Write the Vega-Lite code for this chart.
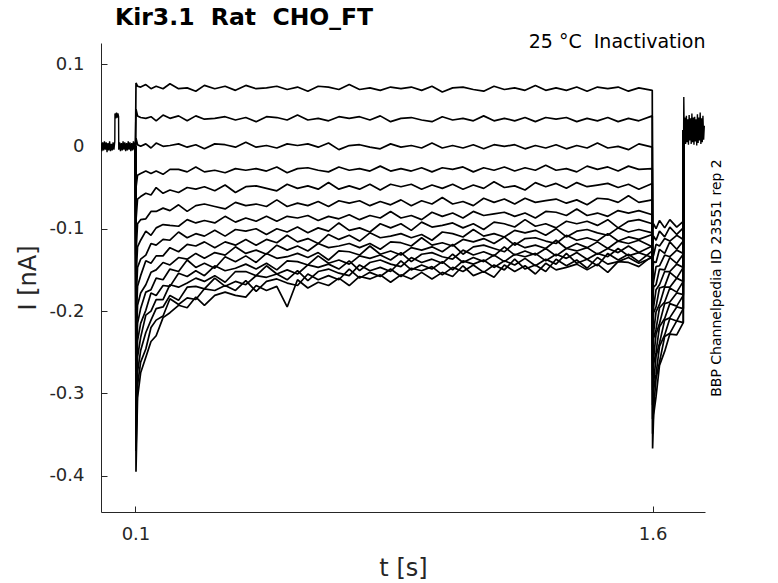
{
"$schema":"https://vega.github.io/schema/vega-lite/v6.json",
"width":604,"height":469,
"autosize":{"type":"none"},
"padding":{"left":101,"top":43,"right":73,"bottom":71},
"background":"white",
"config":{"view":{"stroke":null},"font":"DejaVu Sans",
"axis":{"labelFont":"DejaVu Sans","titleFont":"DejaVu Sans","labelColor":"#262626","titleColor":"#262626","domainColor":"#262626","tickColor":"#262626","grid":false,"titleFontWeight":"normal"}},
"title":{"text":"Kir3.1\u00a0\u00a0Rat\u00a0\u00a0CHO_FT","anchor":"start","frame":"group","fontSize":23.5,"fontWeight":"bold","font":"DejaVu Sans","color":"#000000","baseline":"alphabetic","offset":-16,"dx":14},
"data":{"values":[
{"k":0,"t":0,"v":0.004},{"k":0,"t":0.0025,"v":-0.006},{"k":0,"t":0.005,"v":0.005},{"k":0,"t":0.0075,"v":-0.005},{"k":0,"t":0.01,"v":0.006},{"k":0,"t":0.0125,"v":-0.004},{"k":0,"t":0.015,"v":0.005},{"k":0,"t":0.0175,"v":-0.007},{"k":0,"t":0.02,"v":0.004},{"k":0,"t":0.0225,"v":-0.005},{"k":0,"t":0.025,"v":0.006},{"k":0,"t":0.0275,"v":-0.006},{"k":0,"t":0.03,"v":0.003},{"k":0,"t":0.0325,"v":-0.005},{"k":0,"t":0.035,"v":0.005},{"k":0,"t":0.0375,"v":-0.004},{"k":0,"t":0.04,"v":0.006},{"k":0,"t":0.0405,"v":0.04},{"k":0,"t":0.043,"v":0.034},{"k":0,"t":0.045,"v":0.041},{"k":0,"t":0.047,"v":0.035},{"k":0,"t":0.049,"v":0.04},{"k":0,"t":0.051,"v":0.036},{"k":0,"t":0.0515,"v":-0.004},{"k":0,"t":0.054,"v":0.005},{"k":0,"t":0.0565,"v":-0.006},{"k":0,"t":0.059,"v":0.004},{"k":0,"t":0.0615,"v":-0.005},{"k":0,"t":0.064,"v":0.006},{"k":0,"t":0.0665,"v":-0.004},{"k":0,"t":0.069,"v":0.005},{"k":0,"t":0.0715,"v":-0.006},{"k":0,"t":0.074,"v":0.004},{"k":0,"t":0.0765,"v":-0.005},{"k":0,"t":0.079,"v":0.006},{"k":0,"t":0.0815,"v":-0.004},{"k":0,"t":0.084,"v":0.005},{"k":0,"t":0.0865,"v":-0.006},{"k":0,"t":0.089,"v":0.004},{"k":0,"t":0.0915,"v":-0.005},{"k":0,"t":0.094,"v":0.006},{"k":0,"t":0.0965,"v":-0.004},{"k":0,"t":0.099,"v":0.005},{"k":0,"t":0.1,"v":0},
{"k":17,"t":1.69,"v":0.02},{"k":17,"t":1.6905,"v":0.06},{"k":17,"t":1.692,"v":0.007},{"k":17,"t":1.694,"v":0.035},{"k":17,"t":1.696,"v":0.003},{"k":17,"t":1.698,"v":0.037},{"k":17,"t":1.7,"v":0.005},{"k":17,"t":1.702,"v":0.033},{"k":17,"t":1.704,"v":0.002},{"k":17,"t":1.706,"v":0.038},{"k":17,"t":1.708,"v":0.007},{"k":17,"t":1.71,"v":0.034},{"k":17,"t":1.712,"v":0.003},{"k":17,"t":1.714,"v":0.04},{"k":17,"t":1.716,"v":0.005},{"k":17,"t":1.718,"v":0.035},{"k":17,"t":1.72,"v":0.002},{"k":17,"t":1.722,"v":0.036},{"k":17,"t":1.724,"v":0.006},{"k":17,"t":1.726,"v":0.033},{"k":17,"t":1.728,"v":0.001},{"k":17,"t":1.73,"v":0.039},{"k":17,"t":1.732,"v":0.004},{"k":17,"t":1.734,"v":0.035},{"k":17,"t":1.736,"v":0.007},{"k":17,"t":1.738,"v":0.041},{"k":17,"t":1.74,"v":0.003},{"k":17,"t":1.742,"v":0.034},{"k":17,"t":1.744,"v":0.005},{"k":17,"t":1.746,"v":0.037},{"k":17,"t":1.748,"v":0.008},{"k":17,"t":1.75,"v":0.025},
{"k":1,"t":0.1,"v":0},{"k":1,"t":0.1015,"v":0.077},{"k":1,"t":0.106,"v":0.073},{"k":1,"t":0.115,"v":0.072},{"k":1,"t":0.13,"v":0.075},{"k":1,"t":0.145,"v":0.07},{"k":1,"t":0.16,"v":0.073},{"k":1,"t":0.18,"v":0.07},{"k":1,"t":0.2,"v":0.076},{"k":1,"t":0.225,"v":0.07},{"k":1,"t":0.25,"v":0.071},{"k":1,"t":0.275,"v":0.067},{"k":1,"t":0.3,"v":0.074},{"k":1,"t":0.33,"v":0.07},{"k":1,"t":0.36,"v":0.073},{"k":1,"t":0.39,"v":0.068},{"k":1,"t":0.42,"v":0.074},{"k":1,"t":0.45,"v":0.07},{"k":1,"t":0.48,"v":0.071},{"k":1,"t":0.51,"v":0.073},{"k":1,"t":0.54,"v":0.069},{"k":1,"t":0.57,"v":0.072},{"k":1,"t":0.6,"v":0.067},{"k":1,"t":0.63,"v":0.073},{"k":1,"t":0.66,"v":0.072},{"k":1,"t":0.69,"v":0.069},{"k":1,"t":0.72,"v":0.075},{"k":1,"t":0.75,"v":0.069},{"k":1,"t":0.78,"v":0.071},{"k":1,"t":0.81,"v":0.068},{"k":1,"t":0.84,"v":0.072},{"k":1,"t":0.87,"v":0.07},{"k":1,"t":0.9,"v":0.072},{"k":1,"t":0.93,"v":0.068},{"k":1,"t":0.96,"v":0.073},{"k":1,"t":0.99,"v":0.066},{"k":1,"t":1.02,"v":0.071},{"k":1,"t":1.05,"v":0.072},{"k":1,"t":1.08,"v":0.069},{"k":1,"t":1.11,"v":0.067},{"k":1,"t":1.14,"v":0.073},{"k":1,"t":1.17,"v":0.069},{"k":1,"t":1.2,"v":0.071},{"k":1,"t":1.23,"v":0.068},{"k":1,"t":1.26,"v":0.074},{"k":1,"t":1.29,"v":0.068},{"k":1,"t":1.32,"v":0.071},{"k":1,"t":1.35,"v":0.068},{"k":1,"t":1.38,"v":0.072},{"k":1,"t":1.41,"v":0.067},{"k":1,"t":1.44,"v":0.072},{"k":1,"t":1.47,"v":0.07},{"k":1,"t":1.5,"v":0.072},{"k":1,"t":1.53,"v":0.067},{"k":1,"t":1.56,"v":0.071},{"k":1,"t":1.599,"v":0.068},{"k":1,"t":1.6,"v":-0.1},{"k":1,"t":1.603,"v":-0.094},{"k":1,"t":1.61,"v":-0.1},{"k":1,"t":1.62,"v":-0.09},{"k":1,"t":1.635,"v":-0.099},{"k":1,"t":1.65,"v":-0.089},{"k":1,"t":1.67,"v":-0.098},{"k":1,"t":1.689,"v":-0.091},{"k":1,"t":1.69,"v":0.02},
{"k":2,"t":0.1,"v":0},{"k":2,"t":0.1015,"v":0.045},{"k":2,"t":0.106,"v":0.037},{"k":2,"t":0.115,"v":0.035},{"k":2,"t":0.13,"v":0.034},{"k":2,"t":0.145,"v":0.036},{"k":2,"t":0.16,"v":0.031},{"k":2,"t":0.18,"v":0.038},{"k":2,"t":0.2,"v":0.034},{"k":2,"t":0.225,"v":0.037},{"k":2,"t":0.25,"v":0.031},{"k":2,"t":0.275,"v":0.037},{"k":2,"t":0.3,"v":0.033},{"k":2,"t":0.33,"v":0.034},{"k":2,"t":0.36,"v":0.036},{"k":2,"t":0.39,"v":0.032},{"k":2,"t":0.42,"v":0.035},{"k":2,"t":0.45,"v":0.03},{"k":2,"t":0.48,"v":0.036},{"k":2,"t":0.51,"v":0.035},{"k":2,"t":0.54,"v":0.032},{"k":2,"t":0.57,"v":0.038},{"k":2,"t":0.6,"v":0.032},{"k":2,"t":0.63,"v":0.034},{"k":2,"t":0.66,"v":0.031},{"k":2,"t":0.69,"v":0.036},{"k":2,"t":0.72,"v":0.034},{"k":2,"t":0.75,"v":0.036},{"k":2,"t":0.78,"v":0.032},{"k":2,"t":0.81,"v":0.037},{"k":2,"t":0.84,"v":0.03},{"k":2,"t":0.87,"v":0.034},{"k":2,"t":0.9,"v":0.035},{"k":2,"t":0.93,"v":0.032},{"k":2,"t":0.96,"v":0.03},{"k":2,"t":0.99,"v":0.036},{"k":2,"t":1.02,"v":0.032},{"k":2,"t":1.05,"v":0.034},{"k":2,"t":1.08,"v":0.031},{"k":2,"t":1.11,"v":0.037},{"k":2,"t":1.14,"v":0.031},{"k":2,"t":1.17,"v":0.034},{"k":2,"t":1.2,"v":0.031},{"k":2,"t":1.23,"v":0.035},{"k":2,"t":1.26,"v":0.03},{"k":2,"t":1.29,"v":0.035},{"k":2,"t":1.32,"v":0.033},{"k":2,"t":1.35,"v":0.035},{"k":2,"t":1.38,"v":0.03},{"k":2,"t":1.41,"v":0.034},{"k":2,"t":1.44,"v":0.031},{"k":2,"t":1.47,"v":0.035},{"k":2,"t":1.5,"v":0.03},{"k":2,"t":1.53,"v":0.034},{"k":2,"t":1.56,"v":0.031},{"k":2,"t":1.599,"v":0.037},{"k":2,"t":1.6,"v":-0.118},{"k":2,"t":1.603,"v":-0.109},{"k":2,"t":1.61,"v":-0.114},{"k":2,"t":1.62,"v":-0.103},{"k":2,"t":1.635,"v":-0.11},{"k":2,"t":1.65,"v":-0.098},{"k":2,"t":1.67,"v":-0.107},{"k":2,"t":1.689,"v":-0.099},{"k":2,"t":1.69,"v":0.02},
{"k":3,"t":0.1,"v":0},{"k":3,"t":0.1015,"v":0.01},{"k":3,"t":0.106,"v":0.002},{"k":3,"t":0.115,"v":0},{"k":3,"t":0.13,"v":0.003},{"k":3,"t":0.145,"v":-0.002},{"k":3,"t":0.16,"v":0.004},{"k":3,"t":0.18,"v":0},{"k":3,"t":0.2,"v":0.001},{"k":3,"t":0.225,"v":0.003},{"k":3,"t":0.25,"v":-0.001},{"k":3,"t":0.275,"v":0.002},{"k":3,"t":0.3,"v":-0.003},{"k":3,"t":0.33,"v":0.003},{"k":3,"t":0.36,"v":0.002},{"k":3,"t":0.39,"v":-0.001},{"k":3,"t":0.42,"v":0.005},{"k":3,"t":0.45,"v":-0.001},{"k":3,"t":0.48,"v":0.001},{"k":3,"t":0.51,"v":-0.002},{"k":3,"t":0.54,"v":0.003},{"k":3,"t":0.57,"v":0.001},{"k":3,"t":0.6,"v":0.003},{"k":3,"t":0.63,"v":-0.001},{"k":3,"t":0.66,"v":0.004},{"k":3,"t":0.69,"v":-0.004},{"k":3,"t":0.72,"v":0.001},{"k":3,"t":0.75,"v":0.002},{"k":3,"t":0.78,"v":-0.001},{"k":3,"t":0.81,"v":-0.003},{"k":3,"t":0.84,"v":0.003},{"k":3,"t":0.87,"v":-0.001},{"k":3,"t":0.9,"v":0.001},{"k":3,"t":0.93,"v":-0.002},{"k":3,"t":0.96,"v":0.004},{"k":3,"t":0.99,"v":-0.002},{"k":3,"t":1.02,"v":0.001},{"k":3,"t":1.05,"v":-0.002},{"k":3,"t":1.08,"v":0.002},{"k":3,"t":1.11,"v":-0.003},{"k":3,"t":1.14,"v":0.002},{"k":3,"t":1.17,"v":0},{"k":3,"t":1.2,"v":0.002},{"k":3,"t":1.23,"v":-0.003},{"k":3,"t":1.26,"v":0.001},{"k":3,"t":1.29,"v":-0.002},{"k":3,"t":1.32,"v":0.002},{"k":3,"t":1.35,"v":-0.003},{"k":3,"t":1.38,"v":0.001},{"k":3,"t":1.41,"v":-0.002},{"k":3,"t":1.44,"v":0.004},{"k":3,"t":1.47,"v":-0.002},{"k":3,"t":1.5,"v":0},{"k":3,"t":1.53,"v":-0.004},{"k":3,"t":1.56,"v":0.003},{"k":3,"t":1.599,"v":-0.001},{"k":3,"t":1.6,"v":-0.136},{"k":3,"t":1.603,"v":-0.132},{"k":3,"t":1.61,"v":-0.119},{"k":3,"t":1.62,"v":-0.121},{"k":3,"t":1.635,"v":-0.112},{"k":3,"t":1.65,"v":-0.115},{"k":3,"t":1.67,"v":-0.108},{"k":3,"t":1.689,"v":-0.113},{"k":3,"t":1.69,"v":0.02},
{"k":4,"t":0.1,"v":0},{"k":4,"t":0.1015,"v":-0.05},{"k":4,"t":0.106,"v":-0.035},{"k":4,"t":0.115,"v":-0.033},{"k":4,"t":0.13,"v":-0.03},{"k":4,"t":0.145,"v":-0.033},{"k":4,"t":0.16,"v":-0.03},{"k":4,"t":0.18,"v":-0.034},{"k":4,"t":0.2,"v":-0.028},{"k":4,"t":0.225,"v":-0.028},{"k":4,"t":0.25,"v":-0.031},{"k":4,"t":0.275,"v":-0.025},{"k":4,"t":0.3,"v":-0.031},{"k":4,"t":0.33,"v":-0.029},{"k":4,"t":0.36,"v":-0.032},{"k":4,"t":0.39,"v":-0.027},{"k":4,"t":0.42,"v":-0.029},{"k":4,"t":0.45,"v":-0.027},{"k":4,"t":0.48,"v":-0.03},{"k":4,"t":0.51,"v":-0.025},{"k":4,"t":0.54,"v":-0.032},{"k":4,"t":0.57,"v":-0.027},{"k":4,"t":0.6,"v":-0.026},{"k":4,"t":0.63,"v":-0.029},{"k":4,"t":0.66,"v":-0.031},{"k":4,"t":0.69,"v":-0.025},{"k":4,"t":0.72,"v":-0.029},{"k":4,"t":0.75,"v":-0.027},{"k":4,"t":0.78,"v":-0.03},{"k":4,"t":0.81,"v":-0.024},{"k":4,"t":0.84,"v":-0.03},{"k":4,"t":0.87,"v":-0.027},{"k":4,"t":0.9,"v":-0.03},{"k":4,"t":0.93,"v":-0.026},{"k":4,"t":0.96,"v":-0.031},{"k":4,"t":0.99,"v":-0.026},{"k":4,"t":1.02,"v":-0.028},{"k":4,"t":1.05,"v":-0.025},{"k":4,"t":1.08,"v":-0.031},{"k":4,"t":1.11,"v":-0.026},{"k":4,"t":1.14,"v":-0.029},{"k":4,"t":1.17,"v":-0.025},{"k":4,"t":1.2,"v":-0.03},{"k":4,"t":1.23,"v":-0.026},{"k":4,"t":1.26,"v":-0.029},{"k":4,"t":1.29,"v":-0.023},{"k":4,"t":1.32,"v":-0.029},{"k":4,"t":1.35,"v":-0.027},{"k":4,"t":1.38,"v":-0.031},{"k":4,"t":1.41,"v":-0.024},{"k":4,"t":1.44,"v":-0.028},{"k":4,"t":1.47,"v":-0.025},{"k":4,"t":1.5,"v":-0.03},{"k":4,"t":1.53,"v":-0.024},{"k":4,"t":1.56,"v":-0.028},{"k":4,"t":1.599,"v":-0.027},{"k":4,"t":1.6,"v":-0.153},{"k":4,"t":1.603,"v":-0.14},{"k":4,"t":1.61,"v":-0.141},{"k":4,"t":1.62,"v":-0.125},{"k":4,"t":1.635,"v":-0.13},{"k":4,"t":1.65,"v":-0.116},{"k":4,"t":1.67,"v":-0.125},{"k":4,"t":1.689,"v":-0.115},{"k":4,"t":1.69,"v":0.02},
{"k":5,"t":0.1,"v":0},{"k":5,"t":0.1015,"v":-0.09},{"k":5,"t":0.106,"v":-0.064},{"k":5,"t":0.115,"v":-0.061},{"k":5,"t":0.13,"v":-0.057},{"k":5,"t":0.145,"v":-0.059},{"k":5,"t":0.16,"v":-0.05},{"k":5,"t":0.18,"v":-0.057},{"k":5,"t":0.2,"v":-0.053},{"k":5,"t":0.225,"v":-0.056},{"k":5,"t":0.25,"v":-0.05},{"k":5,"t":0.275,"v":-0.052},{"k":5,"t":0.3,"v":-0.049},{"k":5,"t":0.33,"v":-0.054},{"k":5,"t":0.36,"v":-0.047},{"k":5,"t":0.39,"v":-0.056},{"k":5,"t":0.42,"v":-0.049},{"k":5,"t":0.45,"v":-0.048},{"k":5,"t":0.48,"v":-0.051},{"k":5,"t":0.51,"v":-0.054},{"k":5,"t":0.54,"v":-0.046},{"k":5,"t":0.57,"v":-0.051},{"k":5,"t":0.6,"v":-0.048},{"k":5,"t":0.63,"v":-0.052},{"k":5,"t":0.66,"v":-0.044},{"k":5,"t":0.69,"v":-0.052},{"k":5,"t":0.72,"v":-0.048},{"k":5,"t":0.75,"v":-0.052},{"k":5,"t":0.78,"v":-0.046},{"k":5,"t":0.81,"v":-0.053},{"k":5,"t":0.84,"v":-0.046},{"k":5,"t":0.87,"v":-0.049},{"k":5,"t":0.9,"v":-0.046},{"k":5,"t":0.93,"v":-0.052},{"k":5,"t":0.96,"v":-0.047},{"k":5,"t":0.99,"v":-0.051},{"k":5,"t":1.02,"v":-0.046},{"k":5,"t":1.05,"v":-0.052},{"k":5,"t":1.08,"v":-0.047},{"k":5,"t":1.11,"v":-0.051},{"k":5,"t":1.14,"v":-0.043},{"k":5,"t":1.17,"v":-0.05},{"k":5,"t":1.2,"v":-0.048},{"k":5,"t":1.23,"v":-0.053},{"k":5,"t":1.26,"v":-0.044},{"k":5,"t":1.29,"v":-0.049},{"k":5,"t":1.32,"v":-0.045},{"k":5,"t":1.35,"v":-0.051},{"k":5,"t":1.38,"v":-0.044},{"k":5,"t":1.41,"v":-0.049},{"k":5,"t":1.44,"v":-0.047},{"k":5,"t":1.47,"v":-0.045},{"k":5,"t":1.5,"v":-0.05},{"k":5,"t":1.53,"v":-0.046},{"k":5,"t":1.56,"v":-0.052},{"k":5,"t":1.599,"v":-0.045},{"k":5,"t":1.6,"v":-0.171},{"k":5,"t":1.603,"v":-0.164},{"k":5,"t":1.61,"v":-0.146},{"k":5,"t":1.62,"v":-0.145},{"k":5,"t":1.635,"v":-0.132},{"k":5,"t":1.65,"v":-0.134},{"k":5,"t":1.67,"v":-0.126},{"k":5,"t":1.689,"v":-0.13},{"k":5,"t":1.69,"v":0.02},
{"k":6,"t":0.1,"v":0},{"k":6,"t":0.1015,"v":-0.13},{"k":6,"t":0.106,"v":-0.094},{"k":6,"t":0.115,"v":-0.089},{"k":6,"t":0.13,"v":-0.088},{"k":6,"t":0.145,"v":-0.079},{"k":6,"t":0.16,"v":-0.079},{"k":6,"t":0.18,"v":-0.075},{"k":6,"t":0.2,"v":-0.078},{"k":6,"t":0.225,"v":-0.071},{"k":6,"t":0.25,"v":-0.079},{"k":6,"t":0.275,"v":-0.072},{"k":6,"t":0.3,"v":-0.07},{"k":6,"t":0.33,"v":-0.073},{"k":6,"t":0.36,"v":-0.076},{"k":6,"t":0.39,"v":-0.068},{"k":6,"t":0.42,"v":-0.072},{"k":6,"t":0.45,"v":-0.07},{"k":6,"t":0.48,"v":-0.073},{"k":6,"t":0.51,"v":-0.065},{"k":6,"t":0.54,"v":-0.073},{"k":6,"t":0.57,"v":-0.069},{"k":6,"t":0.6,"v":-0.072},{"k":6,"t":0.63,"v":-0.067},{"k":6,"t":0.66,"v":-0.073},{"k":6,"t":0.69,"v":-0.066},{"k":6,"t":0.72,"v":-0.069},{"k":6,"t":0.75,"v":-0.066},{"k":6,"t":0.78,"v":-0.072},{"k":6,"t":0.81,"v":-0.067},{"k":6,"t":0.84,"v":-0.071},{"k":6,"t":0.87,"v":-0.065},{"k":6,"t":0.9,"v":-0.072},{"k":6,"t":0.93,"v":-0.066},{"k":6,"t":0.96,"v":-0.07},{"k":6,"t":0.99,"v":-0.062},{"k":6,"t":1.02,"v":-0.07},{"k":6,"t":1.05,"v":-0.067},{"k":6,"t":1.08,"v":-0.072},{"k":6,"t":1.11,"v":-0.063},{"k":6,"t":1.14,"v":-0.068},{"k":6,"t":1.17,"v":-0.064},{"k":6,"t":1.2,"v":-0.07},{"k":6,"t":1.23,"v":-0.063},{"k":6,"t":1.26,"v":-0.068},{"k":6,"t":1.29,"v":-0.066},{"k":6,"t":1.32,"v":-0.064},{"k":6,"t":1.35,"v":-0.069},{"k":6,"t":1.38,"v":-0.065},{"k":6,"t":1.41,"v":-0.071},{"k":6,"t":1.44,"v":-0.063},{"k":6,"t":1.47,"v":-0.064},{"k":6,"t":1.5,"v":-0.068},{"k":6,"t":1.53,"v":-0.06},{"k":6,"t":1.56,"v":-0.068},{"k":6,"t":1.599,"v":-0.065},{"k":6,"t":1.6,"v":-0.189},{"k":6,"t":1.603,"v":-0.171},{"k":6,"t":1.61,"v":-0.168},{"k":6,"t":1.62,"v":-0.149},{"k":6,"t":1.635,"v":-0.15},{"k":6,"t":1.65,"v":-0.135},{"k":6,"t":1.67,"v":-0.142},{"k":6,"t":1.689,"v":-0.131},{"k":6,"t":1.69,"v":0.02},
{"k":7,"t":0.1,"v":0},{"k":7,"t":0.1015,"v":-0.16},{"k":7,"t":0.106,"v":-0.122},{"k":7,"t":0.115,"v":-0.114},{"k":7,"t":0.13,"v":-0.103},{"k":7,"t":0.145,"v":-0.108},{"k":7,"t":0.16,"v":-0.099},{"k":7,"t":0.18,"v":-0.095},{"k":7,"t":0.2,"v":-0.096},{"k":7,"t":0.225,"v":-0.097},{"k":7,"t":0.25,"v":-0.089},{"k":7,"t":0.275,"v":-0.093},{"k":7,"t":0.3,"v":-0.09},{"k":7,"t":0.33,"v":-0.093},{"k":7,"t":0.36,"v":-0.085},{"k":7,"t":0.39,"v":-0.092},{"k":7,"t":0.42,"v":-0.087},{"k":7,"t":0.45,"v":-0.091},{"k":7,"t":0.48,"v":-0.085},{"k":7,"t":0.51,"v":-0.091},{"k":7,"t":0.54,"v":-0.085},{"k":7,"t":0.57,"v":-0.087},{"k":7,"t":0.6,"v":-0.084},{"k":7,"t":0.63,"v":-0.09},{"k":7,"t":0.66,"v":-0.085},{"k":7,"t":0.69,"v":-0.088},{"k":7,"t":0.72,"v":-0.083},{"k":7,"t":0.75,"v":-0.089},{"k":7,"t":0.78,"v":-0.084},{"k":7,"t":0.81,"v":-0.087},{"k":7,"t":0.84,"v":-0.079},{"k":7,"t":0.87,"v":-0.087},{"k":7,"t":0.9,"v":-0.084},{"k":7,"t":0.93,"v":-0.089},{"k":7,"t":0.96,"v":-0.08},{"k":7,"t":0.99,"v":-0.085},{"k":7,"t":1.02,"v":-0.081},{"k":7,"t":1.05,"v":-0.087},{"k":7,"t":1.08,"v":-0.079},{"k":7,"t":1.11,"v":-0.084},{"k":7,"t":1.14,"v":-0.082},{"k":7,"t":1.17,"v":-0.08},{"k":7,"t":1.2,"v":-0.085},{"k":7,"t":1.23,"v":-0.081},{"k":7,"t":1.26,"v":-0.087},{"k":7,"t":1.29,"v":-0.079},{"k":7,"t":1.32,"v":-0.08},{"k":7,"t":1.35,"v":-0.084},{"k":7,"t":1.38,"v":-0.076},{"k":7,"t":1.41,"v":-0.084},{"k":7,"t":1.44,"v":-0.081},{"k":7,"t":1.47,"v":-0.085},{"k":7,"t":1.5,"v":-0.078},{"k":7,"t":1.53,"v":-0.081},{"k":7,"t":1.56,"v":-0.078},{"k":7,"t":1.599,"v":-0.083},{"k":7,"t":1.6,"v":-0.207},{"k":7,"t":1.603,"v":-0.195},{"k":7,"t":1.61,"v":-0.174},{"k":7,"t":1.62,"v":-0.168},{"k":7,"t":1.635,"v":-0.152},{"k":7,"t":1.65,"v":-0.152},{"k":7,"t":1.67,"v":-0.143},{"k":7,"t":1.689,"v":-0.147},{"k":7,"t":1.69,"v":0.02},
{"k":8,"t":0.1,"v":0},{"k":8,"t":0.1015,"v":-0.19},{"k":8,"t":0.106,"v":-0.147},{"k":8,"t":0.115,"v":-0.137},{"k":8,"t":0.13,"v":-0.132},{"k":8,"t":0.145,"v":-0.118},{"k":8,"t":0.16,"v":-0.12},{"k":8,"t":0.18,"v":-0.113},{"k":8,"t":0.2,"v":-0.114},{"k":8,"t":0.225,"v":-0.104},{"k":8,"t":0.25,"v":-0.111},{"k":8,"t":0.275,"v":-0.106},{"k":8,"t":0.3,"v":-0.109},{"k":8,"t":0.33,"v":-0.102},{"k":8,"t":0.36,"v":-0.109},{"k":8,"t":0.39,"v":-0.101},{"k":8,"t":0.42,"v":-0.103},{"k":8,"t":0.45,"v":-0.1},{"k":8,"t":0.48,"v":-0.107},{"k":8,"t":0.51,"v":-0.1},{"k":8,"t":0.54,"v":-0.104},{"k":8,"t":0.57,"v":-0.098},{"k":8,"t":0.6,"v":-0.105},{"k":8,"t":0.63,"v":-0.099},{"k":8,"t":0.66,"v":-0.103},{"k":8,"t":0.69,"v":-0.093},{"k":8,"t":0.72,"v":-0.102},{"k":8,"t":0.75,"v":-0.099},{"k":8,"t":0.78,"v":-0.104},{"k":8,"t":0.81,"v":-0.094},{"k":8,"t":0.84,"v":-0.099},{"k":8,"t":0.87,"v":-0.094},{"k":8,"t":0.9,"v":-0.102},{"k":8,"t":0.93,"v":-0.092},{"k":8,"t":0.96,"v":-0.098},{"k":8,"t":0.99,"v":-0.096},{"k":8,"t":1.02,"v":-0.093},{"k":8,"t":1.05,"v":-0.099},{"k":8,"t":1.08,"v":-0.094},{"k":8,"t":1.11,"v":-0.101},{"k":8,"t":1.14,"v":-0.092},{"k":8,"t":1.17,"v":-0.094},{"k":8,"t":1.2,"v":-0.098},{"k":8,"t":1.23,"v":-0.089},{"k":8,"t":1.26,"v":-0.097},{"k":8,"t":1.29,"v":-0.094},{"k":8,"t":1.32,"v":-0.099},{"k":8,"t":1.35,"v":-0.091},{"k":8,"t":1.38,"v":-0.094},{"k":8,"t":1.41,"v":-0.091},{"k":8,"t":1.44,"v":-0.096},{"k":8,"t":1.47,"v":-0.089},{"k":8,"t":1.5,"v":-0.099},{"k":8,"t":1.53,"v":-0.091},{"k":8,"t":1.56,"v":-0.089},{"k":8,"t":1.599,"v":-0.094},{"k":8,"t":1.6,"v":-0.225},{"k":8,"t":1.603,"v":-0.202},{"k":8,"t":1.61,"v":-0.195},{"k":8,"t":1.62,"v":-0.172},{"k":8,"t":1.635,"v":-0.17},{"k":8,"t":1.65,"v":-0.153},{"k":8,"t":1.67,"v":-0.16},{"k":8,"t":1.689,"v":-0.147},{"k":8,"t":1.69,"v":0.02},
{"k":9,"t":0.1,"v":0},{"k":9,"t":0.1015,"v":-0.22},{"k":9,"t":0.106,"v":-0.17},{"k":9,"t":0.115,"v":-0.157},{"k":9,"t":0.13,"v":-0.139},{"k":9,"t":0.145,"v":-0.142},{"k":9,"t":0.16,"v":-0.133},{"k":9,"t":0.18,"v":-0.133},{"k":9,"t":0.2,"v":-0.123},{"k":9,"t":0.225,"v":-0.128},{"k":9,"t":0.25,"v":-0.119},{"k":9,"t":0.275,"v":-0.121},{"k":9,"t":0.3,"v":-0.116},{"k":9,"t":0.33,"v":-0.123},{"k":9,"t":0.36,"v":-0.116},{"k":9,"t":0.39,"v":-0.12},{"k":9,"t":0.42,"v":-0.113},{"k":9,"t":0.45,"v":-0.12},{"k":9,"t":0.48,"v":-0.113},{"k":9,"t":0.51,"v":-0.117},{"k":9,"t":0.54,"v":-0.108},{"k":9,"t":0.57,"v":-0.116},{"k":9,"t":0.6,"v":-0.112},{"k":9,"t":0.63,"v":-0.118},{"k":9,"t":0.66,"v":-0.107},{"k":9,"t":0.69,"v":-0.113},{"k":9,"t":0.72,"v":-0.108},{"k":9,"t":0.75,"v":-0.115},{"k":9,"t":0.78,"v":-0.105},{"k":9,"t":0.81,"v":-0.111},{"k":9,"t":0.84,"v":-0.109},{"k":9,"t":0.87,"v":-0.106},{"k":9,"t":0.9,"v":-0.111},{"k":9,"t":0.93,"v":-0.107},{"k":9,"t":0.96,"v":-0.114},{"k":9,"t":0.99,"v":-0.104},{"k":9,"t":1.02,"v":-0.106},{"k":9,"t":1.05,"v":-0.11},{"k":9,"t":1.08,"v":-0.101},{"k":9,"t":1.11,"v":-0.109},{"k":9,"t":1.14,"v":-0.106},{"k":9,"t":1.17,"v":-0.11},{"k":9,"t":1.2,"v":-0.102},{"k":9,"t":1.23,"v":-0.105},{"k":9,"t":1.26,"v":-0.102},{"k":9,"t":1.29,"v":-0.108},{"k":9,"t":1.32,"v":-0.1},{"k":9,"t":1.35,"v":-0.11},{"k":9,"t":1.38,"v":-0.103},{"k":9,"t":1.41,"v":-0.101},{"k":9,"t":1.44,"v":-0.105},{"k":9,"t":1.47,"v":-0.108},{"k":9,"t":1.5,"v":-0.099},{"k":9,"t":1.53,"v":-0.104},{"k":9,"t":1.56,"v":-0.101},{"k":9,"t":1.599,"v":-0.105},{"k":9,"t":1.6,"v":-0.242},{"k":9,"t":1.603,"v":-0.226},{"k":9,"t":1.61,"v":-0.201},{"k":9,"t":1.62,"v":-0.192},{"k":9,"t":1.635,"v":-0.171},{"k":9,"t":1.65,"v":-0.171},{"k":9,"t":1.67,"v":-0.16},{"k":9,"t":1.689,"v":-0.164},{"k":9,"t":1.69,"v":0.02},
{"k":10,"t":0.1,"v":0},{"k":10,"t":0.1015,"v":-0.25},{"k":10,"t":0.106,"v":-0.193},{"k":10,"t":0.115,"v":-0.178},{"k":10,"t":0.13,"v":-0.168},{"k":10,"t":0.145,"v":-0.153},{"k":10,"t":0.16,"v":-0.15},{"k":10,"t":0.18,"v":-0.141},{"k":10,"t":0.2,"v":-0.144},{"k":10,"t":0.225,"v":-0.135},{"k":10,"t":0.25,"v":-0.137},{"k":10,"t":0.275,"v":-0.13},{"k":10,"t":0.3,"v":-0.136},{"k":10,"t":0.33,"v":-0.129},{"k":10,"t":0.36,"v":-0.132},{"k":10,"t":0.39,"v":-0.122},{"k":10,"t":0.42,"v":-0.13},{"k":10,"t":0.45,"v":-0.126},{"k":10,"t":0.48,"v":-0.131},{"k":10,"t":0.51,"v":-0.12},{"k":10,"t":0.54,"v":-0.126},{"k":10,"t":0.57,"v":-0.121},{"k":10,"t":0.6,"v":-0.127},{"k":10,"t":0.63,"v":-0.118},{"k":10,"t":0.66,"v":-0.123},{"k":10,"t":0.69,"v":-0.121},{"k":10,"t":0.72,"v":-0.118},{"k":10,"t":0.75,"v":-0.123},{"k":10,"t":0.78,"v":-0.118},{"k":10,"t":0.81,"v":-0.125},{"k":10,"t":0.84,"v":-0.116},{"k":10,"t":0.87,"v":-0.117},{"k":10,"t":0.9,"v":-0.121},{"k":10,"t":0.93,"v":-0.111},{"k":10,"t":0.96,"v":-0.12},{"k":10,"t":0.99,"v":-0.117},{"k":10,"t":1.02,"v":-0.121},{"k":10,"t":1.05,"v":-0.113},{"k":10,"t":1.08,"v":-0.116},{"k":10,"t":1.11,"v":-0.112},{"k":10,"t":1.14,"v":-0.118},{"k":10,"t":1.17,"v":-0.11},{"k":10,"t":1.2,"v":-0.12},{"k":10,"t":1.23,"v":-0.112},{"k":10,"t":1.26,"v":-0.111},{"k":10,"t":1.29,"v":-0.115},{"k":10,"t":1.32,"v":-0.118},{"k":10,"t":1.35,"v":-0.108},{"k":10,"t":1.38,"v":-0.114},{"k":10,"t":1.41,"v":-0.111},{"k":10,"t":1.44,"v":-0.115},{"k":10,"t":1.47,"v":-0.106},{"k":10,"t":1.5,"v":-0.115},{"k":10,"t":1.53,"v":-0.11},{"k":10,"t":1.56,"v":-0.113},{"k":10,"t":1.599,"v":-0.107},{"k":10,"t":1.6,"v":-0.26},{"k":10,"t":1.603,"v":-0.233},{"k":10,"t":1.61,"v":-0.222},{"k":10,"t":1.62,"v":-0.196},{"k":10,"t":1.635,"v":-0.189},{"k":10,"t":1.65,"v":-0.172},{"k":10,"t":1.67,"v":-0.177},{"k":10,"t":1.689,"v":-0.164},{"k":10,"t":1.69,"v":0.02},
{"k":11,"t":0.1,"v":0},{"k":11,"t":0.1015,"v":-0.28},{"k":11,"t":0.106,"v":-0.215},{"k":11,"t":0.115,"v":-0.197},{"k":11,"t":0.13,"v":-0.177},{"k":11,"t":0.145,"v":-0.174},{"k":11,"t":0.16,"v":-0.16},{"k":11,"t":0.18,"v":-0.162},{"k":11,"t":0.2,"v":-0.149},{"k":11,"t":0.225,"v":-0.152},{"k":11,"t":0.25,"v":-0.138},{"k":11,"t":0.275,"v":-0.147},{"k":11,"t":0.3,"v":-0.142},{"k":11,"t":0.33,"v":-0.148},{"k":11,"t":0.36,"v":-0.134},{"k":11,"t":0.39,"v":-0.14},{"k":11,"t":0.42,"v":-0.133},{"k":11,"t":0.45,"v":-0.141},{"k":11,"t":0.48,"v":-0.13},{"k":11,"t":0.51,"v":-0.136},{"k":11,"t":0.54,"v":-0.134},{"k":11,"t":0.57,"v":-0.13},{"k":11,"t":0.6,"v":-0.135},{"k":11,"t":0.63,"v":-0.129},{"k":11,"t":0.66,"v":-0.138},{"k":11,"t":0.69,"v":-0.127},{"k":11,"t":0.72,"v":-0.128},{"k":11,"t":0.75,"v":-0.132},{"k":11,"t":0.78,"v":-0.121},{"k":11,"t":0.81,"v":-0.131},{"k":11,"t":0.84,"v":-0.127},{"k":11,"t":0.87,"v":-0.132},{"k":11,"t":0.9,"v":-0.123},{"k":11,"t":0.93,"v":-0.126},{"k":11,"t":0.96,"v":-0.122},{"k":11,"t":0.99,"v":-0.128},{"k":11,"t":1.02,"v":-0.119},{"k":11,"t":1.05,"v":-0.131},{"k":11,"t":1.08,"v":-0.122},{"k":11,"t":1.11,"v":-0.12},{"k":11,"t":1.14,"v":-0.124},{"k":11,"t":1.17,"v":-0.128},{"k":11,"t":1.2,"v":-0.117},{"k":11,"t":1.23,"v":-0.123},{"k":11,"t":1.26,"v":-0.12},{"k":11,"t":1.29,"v":-0.124},{"k":11,"t":1.32,"v":-0.114},{"k":11,"t":1.35,"v":-0.124},{"k":11,"t":1.38,"v":-0.118},{"k":11,"t":1.41,"v":-0.123},{"k":11,"t":1.44,"v":-0.116},{"k":11,"t":1.47,"v":-0.124},{"k":11,"t":1.5,"v":-0.115},{"k":11,"t":1.53,"v":-0.118},{"k":11,"t":1.56,"v":-0.114},{"k":11,"t":1.599,"v":-0.122},{"k":11,"t":1.6,"v":-0.278},{"k":11,"t":1.603,"v":-0.257},{"k":11,"t":1.61,"v":-0.228},{"k":11,"t":1.62,"v":-0.215},{"k":11,"t":1.635,"v":-0.191},{"k":11,"t":1.65,"v":-0.189},{"k":11,"t":1.67,"v":-0.178},{"k":11,"t":1.689,"v":-0.18},{"k":11,"t":1.69,"v":0.02},
{"k":12,"t":0.1,"v":0},{"k":12,"t":0.1015,"v":-0.3},{"k":12,"t":0.106,"v":-0.236},{"k":12,"t":0.115,"v":-0.215},{"k":12,"t":0.13,"v":-0.199},{"k":12,"t":0.145,"v":-0.178},{"k":12,"t":0.16,"v":-0.181},{"k":12,"t":0.18,"v":-0.169},{"k":12,"t":0.2,"v":-0.17},{"k":12,"t":0.225,"v":-0.154},{"k":12,"t":0.25,"v":-0.158},{"k":12,"t":0.275,"v":-0.151},{"k":12,"t":0.3,"v":-0.157},{"k":12,"t":0.33,"v":-0.145},{"k":12,"t":0.36,"v":-0.151},{"k":12,"t":0.39,"v":-0.148},{"k":12,"t":0.42,"v":-0.143},{"k":12,"t":0.45,"v":-0.149},{"k":12,"t":0.48,"v":-0.142},{"k":12,"t":0.51,"v":-0.15},{"k":12,"t":0.54,"v":-0.139},{"k":12,"t":0.57,"v":-0.14},{"k":12,"t":0.6,"v":-0.144},{"k":12,"t":0.63,"v":-0.133},{"k":12,"t":0.66,"v":-0.142},{"k":12,"t":0.69,"v":-0.138},{"k":12,"t":0.72,"v":-0.143},{"k":12,"t":0.75,"v":-0.133},{"k":12,"t":0.78,"v":-0.136},{"k":12,"t":0.81,"v":-0.132},{"k":12,"t":0.84,"v":-0.138},{"k":12,"t":0.87,"v":-0.129},{"k":12,"t":0.9,"v":-0.14},{"k":12,"t":0.93,"v":-0.131},{"k":12,"t":0.96,"v":-0.129},{"k":12,"t":0.99,"v":-0.134},{"k":12,"t":1.02,"v":-0.137},{"k":12,"t":1.05,"v":-0.126},{"k":12,"t":1.08,"v":-0.132},{"k":12,"t":1.11,"v":-0.128},{"k":12,"t":1.14,"v":-0.133},{"k":12,"t":1.17,"v":-0.122},{"k":12,"t":1.2,"v":-0.132},{"k":12,"t":1.23,"v":-0.127},{"k":12,"t":1.26,"v":-0.132},{"k":12,"t":1.29,"v":-0.124},{"k":12,"t":1.32,"v":-0.133},{"k":12,"t":1.35,"v":-0.124},{"k":12,"t":1.38,"v":-0.127},{"k":12,"t":1.41,"v":-0.123},{"k":12,"t":1.44,"v":-0.131},{"k":12,"t":1.47,"v":-0.124},{"k":12,"t":1.5,"v":-0.129},{"k":12,"t":1.53,"v":-0.121},{"k":12,"t":1.56,"v":-0.129},{"k":12,"t":1.599,"v":-0.121},{"k":12,"t":1.6,"v":-0.296},{"k":12,"t":1.603,"v":-0.264},{"k":12,"t":1.61,"v":-0.25},{"k":12,"t":1.62,"v":-0.219},{"k":12,"t":1.635,"v":-0.209},{"k":12,"t":1.65,"v":-0.191},{"k":12,"t":1.67,"v":-0.194},{"k":12,"t":1.689,"v":-0.181},{"k":12,"t":1.69,"v":0.02},
{"k":13,"t":0.1,"v":0},{"k":13,"t":0.1015,"v":-0.33},{"k":13,"t":0.106,"v":-0.256},{"k":13,"t":0.115,"v":-0.232},{"k":13,"t":0.13,"v":-0.205},{"k":13,"t":0.145,"v":-0.2},{"k":13,"t":0.16,"v":-0.186},{"k":13,"t":0.18,"v":-0.186},{"k":13,"t":0.2,"v":-0.168},{"k":13,"t":0.225,"v":-0.171},{"k":13,"t":0.25,"v":-0.166},{"k":13,"t":0.275,"v":-0.16},{"k":13,"t":0.3,"v":-0.164},{"k":13,"t":0.33,"v":-0.157},{"k":13,"t":0.36,"v":-0.165},{"k":13,"t":0.39,"v":-0.152},{"k":13,"t":0.42,"v":-0.152},{"k":13,"t":0.45,"v":-0.157},{"k":13,"t":0.48,"v":-0.145},{"k":13,"t":0.51,"v":-0.155},{"k":13,"t":0.54,"v":-0.15},{"k":13,"t":0.57,"v":-0.155},{"k":13,"t":0.6,"v":-0.144},{"k":13,"t":0.63,"v":-0.147},{"k":13,"t":0.66,"v":-0.143},{"k":13,"t":0.69,"v":-0.149},{"k":13,"t":0.72,"v":-0.139},{"k":13,"t":0.75,"v":-0.151},{"k":13,"t":0.78,"v":-0.141},{"k":13,"t":0.81,"v":-0.138},{"k":13,"t":0.84,"v":-0.143},{"k":13,"t":0.87,"v":-0.146},{"k":13,"t":0.9,"v":-0.135},{"k":13,"t":0.93,"v":-0.141},{"k":13,"t":0.96,"v":-0.137},{"k":13,"t":0.99,"v":-0.142},{"k":13,"t":1.02,"v":-0.131},{"k":13,"t":1.05,"v":-0.141},{"k":13,"t":1.08,"v":-0.135},{"k":13,"t":1.11,"v":-0.14},{"k":13,"t":1.14,"v":-0.132},{"k":13,"t":1.17,"v":-0.14},{"k":13,"t":1.2,"v":-0.131},{"k":13,"t":1.23,"v":-0.134},{"k":13,"t":1.26,"v":-0.13},{"k":13,"t":1.29,"v":-0.139},{"k":13,"t":1.32,"v":-0.131},{"k":13,"t":1.35,"v":-0.136},{"k":13,"t":1.38,"v":-0.129},{"k":13,"t":1.41,"v":-0.137},{"k":13,"t":1.44,"v":-0.13},{"k":13,"t":1.47,"v":-0.134},{"k":13,"t":1.5,"v":-0.124},{"k":13,"t":1.53,"v":-0.133},{"k":13,"t":1.56,"v":-0.129},{"k":13,"t":1.599,"v":-0.135},{"k":13,"t":1.6,"v":-0.314},{"k":13,"t":1.603,"v":-0.288},{"k":13,"t":1.61,"v":-0.255},{"k":13,"t":1.62,"v":-0.239},{"k":13,"t":1.635,"v":-0.211},{"k":13,"t":1.65,"v":-0.208},{"k":13,"t":1.67,"v":-0.195},{"k":13,"t":1.689,"v":-0.197},{"k":13,"t":1.69,"v":0.02},
{"k":14,"t":0.1,"v":0},{"k":14,"t":0.1015,"v":-0.35},{"k":14,"t":0.106,"v":-0.274},{"k":14,"t":0.115,"v":-0.248},{"k":14,"t":0.13,"v":-0.226},{"k":14,"t":0.145,"v":-0.211},{"k":14,"t":0.16,"v":-0.197},{"k":14,"t":0.18,"v":-0.195},{"k":14,"t":0.2,"v":-0.181},{"k":14,"t":0.225,"v":-0.187},{"k":14,"t":0.25,"v":-0.171},{"k":14,"t":0.275,"v":-0.17},{"k":14,"t":0.3,"v":-0.173},{"k":14,"t":0.33,"v":-0.16},{"k":14,"t":0.36,"v":-0.17},{"k":14,"t":0.39,"v":-0.164},{"k":14,"t":0.42,"v":-0.168},{"k":14,"t":0.45,"v":-0.157},{"k":14,"t":0.48,"v":-0.159},{"k":14,"t":0.51,"v":-0.155},{"k":14,"t":0.54,"v":-0.162},{"k":14,"t":0.57,"v":-0.151},{"k":14,"t":0.6,"v":-0.163},{"k":14,"t":0.63,"v":-0.152},{"k":14,"t":0.66,"v":-0.149},{"k":14,"t":0.69,"v":-0.154},{"k":14,"t":0.72,"v":-0.157},{"k":14,"t":0.75,"v":-0.144},{"k":14,"t":0.78,"v":-0.151},{"k":14,"t":0.81,"v":-0.147},{"k":14,"t":0.84,"v":-0.152},{"k":14,"t":0.87,"v":-0.139},{"k":14,"t":0.9,"v":-0.15},{"k":14,"t":0.93,"v":-0.144},{"k":14,"t":0.96,"v":-0.149},{"k":14,"t":0.99,"v":-0.14},{"k":14,"t":1.02,"v":-0.15},{"k":14,"t":1.05,"v":-0.139},{"k":14,"t":1.08,"v":-0.143},{"k":14,"t":1.11,"v":-0.138},{"k":14,"t":1.14,"v":-0.147},{"k":14,"t":1.17,"v":-0.139},{"k":14,"t":1.2,"v":-0.144},{"k":14,"t":1.23,"v":-0.136},{"k":14,"t":1.26,"v":-0.145},{"k":14,"t":1.29,"v":-0.137},{"k":14,"t":1.32,"v":-0.143},{"k":14,"t":1.35,"v":-0.13},{"k":14,"t":1.38,"v":-0.142},{"k":14,"t":1.41,"v":-0.137},{"k":14,"t":1.44,"v":-0.145},{"k":14,"t":1.47,"v":-0.13},{"k":14,"t":1.5,"v":-0.138},{"k":14,"t":1.53,"v":-0.131},{"k":14,"t":1.56,"v":-0.14},{"k":14,"t":1.599,"v":-0.127},{"k":14,"t":1.6,"v":-0.331},{"k":14,"t":1.603,"v":-0.295},{"k":14,"t":1.61,"v":-0.277},{"k":14,"t":1.62,"v":-0.243},{"k":14,"t":1.635,"v":-0.229},{"k":14,"t":1.65,"v":-0.209},{"k":14,"t":1.67,"v":-0.212},{"k":14,"t":1.689,"v":-0.197},{"k":14,"t":1.69,"v":0.02},
{"k":15,"t":0.1,"v":0},{"k":15,"t":0.1015,"v":-0.37},{"k":15,"t":0.106,"v":-0.29},{"k":15,"t":0.115,"v":-0.262},{"k":15,"t":0.13,"v":-0.246},{"k":15,"t":0.145,"v":-0.22},{"k":15,"t":0.16,"v":-0.211},{"k":15,"t":0.18,"v":-0.206},{"k":15,"t":0.2,"v":-0.185},{"k":15,"t":0.225,"v":-0.192},{"k":15,"t":0.25,"v":-0.184},{"k":15,"t":0.275,"v":-0.186},{"k":15,"t":0.3,"v":-0.173},{"k":15,"t":0.33,"v":-0.175},{"k":15,"t":0.36,"v":-0.169},{"k":15,"t":0.39,"v":-0.175},{"k":15,"t":0.42,"v":-0.163},{"k":15,"t":0.45,"v":-0.176},{"k":15,"t":0.48,"v":-0.164},{"k":15,"t":0.51,"v":-0.161},{"k":15,"t":0.54,"v":-0.166},{"k":15,"t":0.57,"v":-0.169},{"k":15,"t":0.6,"v":-0.155},{"k":15,"t":0.63,"v":-0.162},{"k":15,"t":0.66,"v":-0.157},{"k":15,"t":0.69,"v":-0.162},{"k":15,"t":0.72,"v":-0.149},{"k":15,"t":0.75,"v":-0.16},{"k":15,"t":0.78,"v":-0.153},{"k":15,"t":0.81,"v":-0.158},{"k":15,"t":0.84,"v":-0.149},{"k":15,"t":0.87,"v":-0.158},{"k":15,"t":0.9,"v":-0.148},{"k":15,"t":0.93,"v":-0.151},{"k":15,"t":0.96,"v":-0.146},{"k":15,"t":0.99,"v":-0.156},{"k":15,"t":1.02,"v":-0.147},{"k":15,"t":1.05,"v":-0.152},{"k":15,"t":1.08,"v":-0.144},{"k":15,"t":1.11,"v":-0.153},{"k":15,"t":1.14,"v":-0.144},{"k":15,"t":1.17,"v":-0.15},{"k":15,"t":1.2,"v":-0.137},{"k":15,"t":1.23,"v":-0.149},{"k":15,"t":1.26,"v":-0.144},{"k":15,"t":1.29,"v":-0.152},{"k":15,"t":1.32,"v":-0.137},{"k":15,"t":1.35,"v":-0.145},{"k":15,"t":1.38,"v":-0.138},{"k":15,"t":1.41,"v":-0.148},{"k":15,"t":1.44,"v":-0.135},{"k":15,"t":1.47,"v":-0.143},{"k":15,"t":1.5,"v":-0.14},{"k":15,"t":1.53,"v":-0.135},{"k":15,"t":1.56,"v":-0.142},{"k":15,"t":1.599,"v":-0.135},{"k":15,"t":1.6,"v":-0.349},{"k":15,"t":1.603,"v":-0.318},{"k":15,"t":1.61,"v":-0.282},{"k":15,"t":1.62,"v":-0.262},{"k":15,"t":1.635,"v":-0.231},{"k":15,"t":1.65,"v":-0.227},{"k":15,"t":1.67,"v":-0.212},{"k":15,"t":1.689,"v":-0.214},{"k":15,"t":1.69,"v":0.02},
{"k":16,"t":0.1,"v":0},{"k":16,"t":0.1015,"v":-0.395},{"k":16,"t":0.106,"v":-0.305},{"k":16,"t":0.115,"v":-0.275},{"k":16,"t":0.13,"v":-0.256},{"k":16,"t":0.145,"v":-0.237},{"k":16,"t":0.16,"v":-0.23},{"k":16,"t":0.18,"v":-0.208},{"k":16,"t":0.2,"v":-0.202},{"k":16,"t":0.225,"v":-0.193},{"k":16,"t":0.25,"v":-0.196},{"k":16,"t":0.275,"v":-0.183},{"k":16,"t":0.3,"v":-0.193},{"k":16,"t":0.33,"v":-0.181},{"k":16,"t":0.36,"v":-0.177},{"k":16,"t":0.39,"v":-0.181},{"k":16,"t":0.42,"v":-0.183},{"k":16,"t":0.45,"v":-0.169},{"k":16,"t":0.48,"v":-0.175},{"k":16,"t":0.51,"v":-0.17},{"k":16,"t":0.54,"v":-0.195},{"k":16,"t":0.57,"v":-0.162},{"k":16,"t":0.6,"v":-0.172},{"k":16,"t":0.63,"v":-0.165},{"k":16,"t":0.66,"v":-0.169},{"k":16,"t":0.69,"v":-0.16},{"k":16,"t":0.72,"v":-0.169},{"k":16,"t":0.75,"v":-0.158},{"k":16,"t":0.78,"v":-0.161},{"k":16,"t":0.81,"v":-0.156},{"k":16,"t":0.84,"v":-0.165},{"k":16,"t":0.87,"v":-0.156},{"k":16,"t":0.9,"v":-0.161},{"k":16,"t":0.93,"v":-0.153},{"k":16,"t":0.96,"v":-0.161},{"k":16,"t":0.99,"v":-0.153},{"k":16,"t":1.02,"v":-0.158},{"k":16,"t":1.05,"v":-0.145},{"k":16,"t":1.08,"v":-0.157},{"k":16,"t":1.11,"v":-0.152},{"k":16,"t":1.14,"v":-0.159},{"k":16,"t":1.17,"v":-0.144},{"k":16,"t":1.2,"v":-0.152},{"k":16,"t":1.23,"v":-0.145},{"k":16,"t":1.26,"v":-0.155},{"k":16,"t":1.29,"v":-0.142},{"k":16,"t":1.32,"v":-0.15},{"k":16,"t":1.35,"v":-0.147},{"k":16,"t":1.38,"v":-0.143},{"k":16,"t":1.41,"v":-0.15},{"k":16,"t":1.44,"v":-0.143},{"k":16,"t":1.47,"v":-0.153},{"k":16,"t":1.5,"v":-0.14},{"k":16,"t":1.53,"v":-0.141},{"k":16,"t":1.56,"v":-0.146},{"k":16,"t":1.599,"v":-0.133},{"k":16,"t":1.6,"v":-0.367},{"k":16,"t":1.603,"v":-0.326},{"k":16,"t":1.61,"v":-0.304},{"k":16,"t":1.62,"v":-0.266},{"k":16,"t":1.635,"v":-0.249},{"k":16,"t":1.65,"v":-0.228},{"k":16,"t":1.67,"v":-0.229},{"k":16,"t":1.689,"v":-0.214},{"k":16,"t":1.69,"v":0.02}
]},
"layer":[
{"transform":[{"filter":"datum.k >= 1 && datum.k <= 16"}],
"mark":{"type":"line","color":"#000000","strokeWidth":1.7,"strokeJoin":"bevel","clip":true},
"encoding":{
"x":{"field":"t","type":"quantitative","scale":{"domain":[0,1.752],"nice":false,"zero":false},
"axis":{"orient":"bottom","values":[0.1,1.6],"labelExpr":"'' + datum.value","labelFontSize":18,"tickSize":-6,"labelPadding":19,"title":"t [s]","titleFontSize":24,"titlePadding":13,"domainWidth":1}},
"y":{"field":"v","type":"quantitative","scale":{"domain":[-0.444,0.1255],"nice":false,"zero":false},
"axis":{"orient":"left","values":[-0.4,-0.3,-0.2,-0.1,0,0.1],"labelExpr":"'' + datum.value","labelFontSize":18,"tickSize":-6,"labelPadding":23,"title":"I [nA]","titleFontSize":24,"titlePadding":8,"domainWidth":1}},
"detail":{"field":"k","type":"nominal"}}},
{"transform":[{"filter":"datum.k == 0 || datum.k == 17"}],
"mark":{"type":"line","color":"#000000","strokeWidth":1.4,"strokeJoin":"bevel","clip":true},
"encoding":{
"x":{"field":"t","type":"quantitative","scale":{"domain":[0,1.752],"nice":false,"zero":false},
"axis":{"orient":"top","labels":false,"ticks":false,"domain":false,"title":"25 °C\u00a0\u00a0Inactivation","titleFontSize":19,"titleColor":"#000000","titleAnchor":"end","titlePadding":-8}},
"y":{"field":"v","type":"quantitative","scale":{"domain":[-0.444,0.1255],"nice":false,"zero":false},
"axis":{"orient":"right","labels":false,"ticks":false,"domain":false,"title":"BBP Channelpedia ID 23551 rep 2","titleFontSize":14,"titleColor":"#000000","titleAngle":270,"titleBaseline":"top","titlePadding":4}},
"detail":{"field":"k","type":"nominal"}}}
],
"resolve":{"axis":{"x":"independent","y":"independent"}}
}
